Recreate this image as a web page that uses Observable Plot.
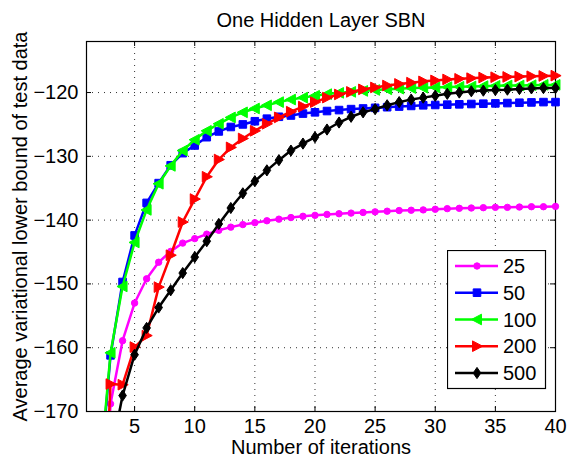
<!DOCTYPE html>
<html><head><meta charset="utf-8">
<script src="https://cdn.jsdelivr.net/npm/d3@7"></script>
<script src="https://cdn.jsdelivr.net/npm/@observablehq/plot@0.6"></script>
<style>
body{margin:0;background:#fff;}
#wrap{position:relative;width:567px;height:457px;font-family:"Liberation Sans",Arial,Helvetica,sans-serif;}
#legend{position:absolute;left:447px;top:250px;}
</style></head><body>
<div id="wrap"></div>
<script>
const title = "One Hidden Layer SBN";
const xLabel = "Number of iterations";
const yLabel = "Average variational lower bound of test data";
const iterations = [2,3,4,5,6,7,8,9,10,11,12,13,14,15,16,17,18,19,20,21,22,23,24,25,26,27,28,29,30,31,32,33,34,35,36,37,38,39,40];
const seriesNames = ["25","50","100","200","500"];
const s25 = [-200,-168.8,-158.9,-153.0,-149.2,-146.6,-144.9,-143.6,-142.9,-142.2,-141.6,-141.1,-140.7,-140.4,-140.1,-139.85,-139.6,-139.4,-139.25,-139.1,-139.0,-138.9,-138.8,-138.7,-138.6,-138.5,-138.45,-138.4,-138.3,-138.2,-138.15,-138.1,-138.05,-138.0,-138.0,-137.95,-137.9,-137.9,-137.85];
const s50 = [-183,-161.2,-149.7,-142.4,-137.3,-134.2,-131.4,-129.5,-128.3,-127.0,-126.1,-125.4,-125.0,-124.5,-124.1,-123.8,-123.6,-123.3,-123.1,-122.9,-122.75,-122.6,-122.5,-122.4,-122.3,-122.2,-122.1,-122.0,-121.95,-121.9,-121.85,-121.8,-121.75,-121.7,-121.65,-121.6,-121.55,-121.5,-121.5];
const s100 = [-182,-160.8,-150.4,-143.5,-138.4,-134.3,-131.5,-129.1,-127.4,-126.0,-124.9,-123.9,-123.1,-122.5,-122.0,-121.5,-121.1,-120.8,-120.5,-120.25,-120.05,-119.9,-119.75,-119.6,-119.5,-119.4,-119.3,-119.25,-119.2,-119.15,-119.1,-119.05,-119.0,-118.95,-118.9,-118.9,-118.85,-118.8,-118.8];
const s200 = [-205,-165.7,-165.8,-159.9,-158.1,-150.5,-145.5,-140.3,-136.7,-133.2,-130.5,-128.6,-127.2,-126.0,-124.9,-123.9,-123.0,-122.2,-121.5,-120.8,-120.3,-119.9,-119.5,-119.2,-118.9,-118.65,-118.45,-118.25,-118.1,-117.95,-117.85,-117.75,-117.65,-117.6,-117.55,-117.5,-117.45,-117.4,-117.35];
const s500 = [-195,-177,-167.5,-161.1,-156.9,-153.7,-151.0,-148.3,-145.8,-143.3,-140.6,-138.1,-135.8,-133.9,-132.2,-130.6,-129.1,-128.0,-127.0,-125.8,-124.7,-123.8,-123.1,-122.6,-122.0,-121.5,-121.1,-120.8,-120.5,-120.2,-120.0,-119.8,-119.7,-119.6,-119.55,-119.45,-119.35,-119.3,-119.3];
const xTicks = [5,10,15,20,25,30,35,40];
const yTicks = [-170,-160,-150,-140,-130,-120];
const xDomain = [1,40];
const yDomain = [-170,-112];
const colors = ["#ff00ff","#0000ff","#00ff00","#ff0000","#000000"];

const values = [s25,s50,s100,s200,s500];

function poly(pts){
  return {draw(ctx,size){
    const r = Math.sqrt(size/Math.PI);
    ctx.moveTo(pts[0][0]*r, pts[0][1]*r);
    for (let k=1;k<pts.length;k++) ctx.lineTo(pts[k][0]*r, pts[k][1]*r);
    ctx.closePath();
  }};
}
const symbols = [
  "circle",
  poly([[-1,-1],[1,-1],[1,1],[-1,1]]),
  poly([[-1,0],[0.8,-0.95],[0.8,0.95]]),
  poly([[1,0],[-0.8,-0.95],[-0.8,0.95]]),
  poly([[0,-1],[0.68,0],[0,1],[-0.68,0]])
];
const radii = [3.2,3.8,5.6,5.6,5.6];

const W = 567, H = 457, mT = 41, mB = 46, mL = 86, mR = 12;
const frameW = W - mL - mR, frameH = H - mT - mB, tickLen = 5;

const rowsBySeries = seriesNames.map((name,i)=>iterations.map((it,j)=>({series:name, x:it, y:values[i][j]})));

const seriesMarks = [];
seriesNames.forEach((name,i)=>{
  seriesMarks.push(Plot.line(rowsBySeries[i], {x:"x", y:"y", stroke: colors[i], strokeWidth: 2.5, clip: true}));
  seriesMarks.push(Plot.dot(rowsBySeries[i].filter(d=>d.y>=yDomain[0]), {x:"x", y:"y", symbol: symbols[i], r: radii[i], fill: colors[i], stroke: colors[i], strokeWidth: 1}));
});

const grid = {stroke:"#333", strokeOpacity:1, strokeWidth:1, strokeDasharray:"1,5"};
const chart = Plot.plot({
  width: W, height: H,
  marginTop: mT, marginBottom: mB, marginLeft: mL, marginRight: mR,
  style: {fontFamily: '"Liberation Sans",Arial,Helvetica,sans-serif', fontSize: "20px", color: "black", background: "white", overflow: "visible"},
  x: {domain: xDomain},
  y: {domain: yDomain},
  marks: [
    Plot.ruleX(xTicks, {x: d=>d, ...grid}),
    Plot.ruleY(yTicks, {y: d=>d, ...grid}),
    Plot.frame({stroke:"black", strokeWidth:1.2}),
    Plot.ruleX(xTicks, {x: d=>d, insetTop: frameH - tickLen, stroke:"black"}),
    Plot.ruleX(xTicks, {x: d=>d, insetBottom: frameH - tickLen, stroke:"black"}),
    Plot.ruleY(yTicks, {y: d=>d, insetRight: frameW - tickLen, stroke:"black"}),
    Plot.ruleY(yTicks, {y: d=>d, insetLeft: frameW - tickLen, stroke:"black"}),
    Plot.axisX({ticks: xTicks, tickSize: 0, tickPadding: 7, fontSize: 20, label: null}),
    Plot.axisY({ticks: yTicks, tickSize: 0, tickPadding: 8, fontSize: 20, label: null}),
    Plot.text([title], {frameAnchor: "top", dy: -21, fontSize: 20, lineAnchor: "middle", textAnchor: "middle", text: d=>d}),
    Plot.text([xLabel], {frameAnchor: "bottom", dy: 36.5, fontSize: 20, lineAnchor: "middle", textAnchor: "middle", text: d=>d}),
    Plot.text([yLabel], {frameAnchor: "left", dx: -65.5, rotate: -90, fontSize: 20, lineAnchor: "middle", textAnchor: "middle", text: d=>d}),
    ...seriesMarks
  ]
});
const wrap = document.getElementById("wrap");
wrap.appendChild(chart);

// legend overlay
const lg = d3.select(wrap).append("svg").attr("id","legend").attr("width",100).attr("height",140);
lg.append("rect").attr("x",0.5).attr("y",0.5).attr("width",98).attr("height",138).attr("fill","white").attr("stroke","black").attr("stroke-width",1.2);
const rowY = [16,42.7,69.5,96.2,123];
seriesNames.forEach((name,i)=>{
  const g = lg.append("g").attr("transform",`translate(0,${rowY[i]})`);
  g.append("line").attr("x1",8).attr("x2",51).attr("y1",0).attr("y2",0).attr("stroke",colors[i]).attr("stroke-width",2.5);
  const sym = symbols[i] === "circle" ? d3.symbolCircle : symbols[i];
  g.append("path").attr("transform","translate(30,0)").attr("d", d3.symbol(sym, radii[i]*radii[i]*Math.PI)()).attr("fill",colors[i]).attr("stroke",colors[i]);
  g.append("text").attr("x",56).attr("y",0).attr("dy","0.35em").attr("font-size",20).attr("font-family",'"Liberation Sans",Arial,sans-serif').text(name);
});
</script>
</body></html>
